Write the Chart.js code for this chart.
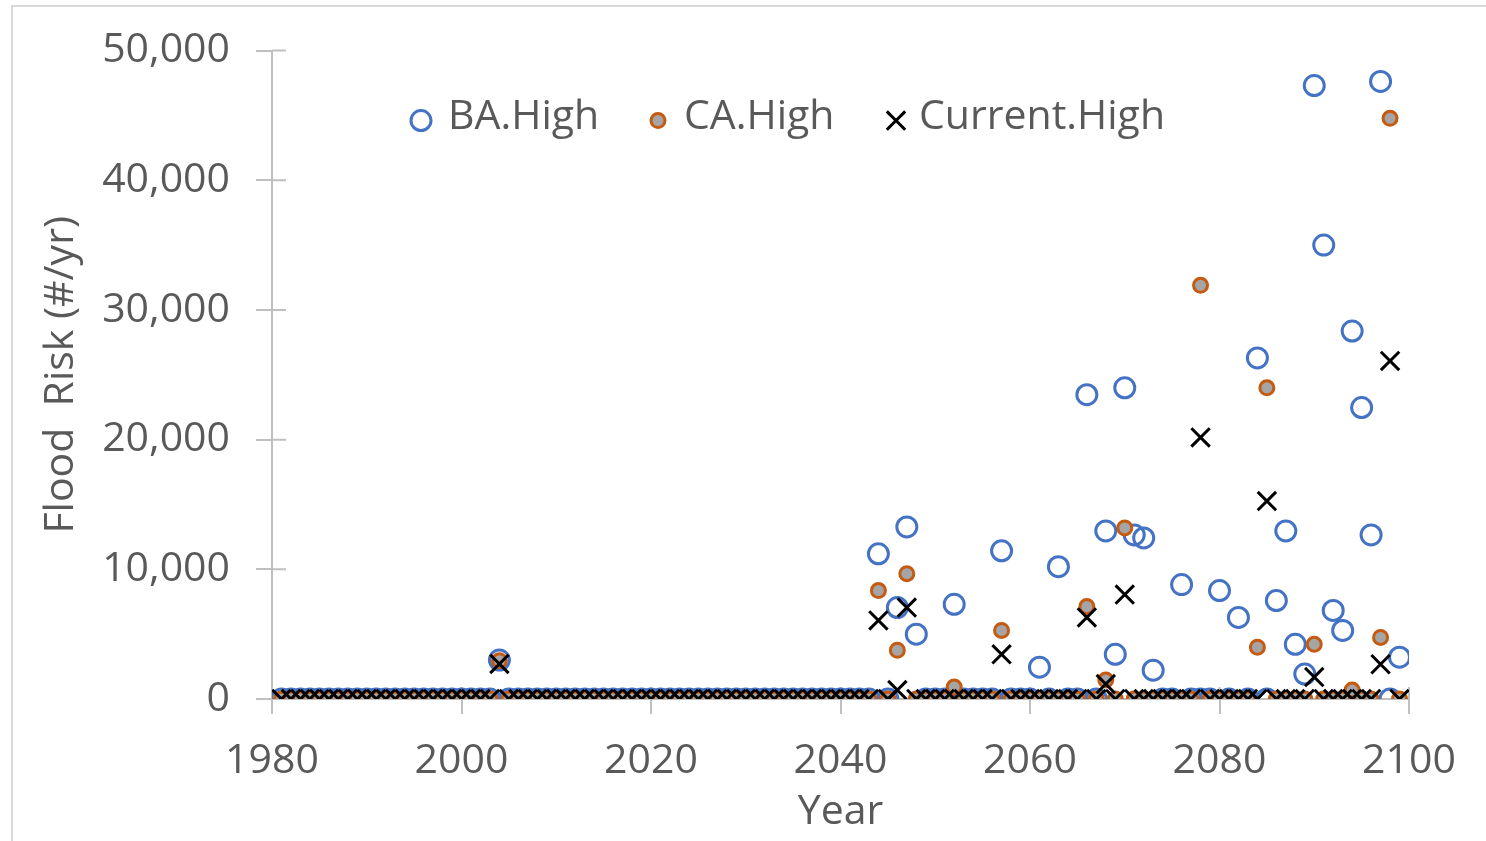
<!DOCTYPE html>
<html>
<head>
<meta charset="utf-8">
<script src="https://cdn.jsdelivr.net/npm/chart.js@4.4.1/dist/chart.umd.min.js"></script>
<style>
  html, body { margin: 0; padding: 0; background: #fff; overflow: hidden; }
  #wrap { position: relative; width: 1486px; height: 841px; }
  #frame { position: absolute; left: 11px; top: 5px; width: 1480px; height: 850px; border: 2px solid #d9d9d9; box-sizing: border-box; }
  #chart { position: absolute; left: 0; top: 0; }
</style>
</head>
<body>
<div id="wrap">
  <div id="frame"></div>
  <canvas id="chart" width="1486" height="841"></canvas>
</div>
<script>
// years on the x axis
const years = [
  1981, 1982, 1983, 1984, 1985, 1986, 1987, 1988, 1989, 1990,
  1991, 1992, 1993, 1994, 1995, 1996, 1997, 1998, 1999, 2000,
  2001, 2002, 2003, 2004, 2005, 2006, 2007, 2008, 2009, 2010,
  2011, 2012, 2013, 2014, 2015, 2016, 2017, 2018, 2019, 2020,
  2021, 2022, 2023, 2024, 2025, 2026, 2027, 2028, 2029, 2030,
  2031, 2032, 2033, 2034, 2035, 2036, 2037, 2038, 2039, 2040,
  2041, 2042, 2043, 2044, 2045, 2046, 2047, 2048, 2049, 2050,
  2051, 2052, 2053, 2054, 2055, 2056, 2057, 2058, 2059, 2060,
  2061, 2062, 2063, 2064, 2065, 2066, 2067, 2068, 2069, 2070,
  2071, 2072, 2073, 2074, 2075, 2076, 2077, 2078, 2079, 2080,
  2081, 2082, 2083, 2084, 2085, 2086, 2087, 2088, 2089, 2090,
  2091, 2092, 2093, 2094, 2095, 2096, 2097, 2098, 2099
];

const baHigh = [
  0, 0, 0, 0, 0, 0, 0, 0, 0, 0,
  0, 0, 0, 0, 0, 0, 0, 0, 0, 0,
  0, 0, 0, 3000, 0, 0, 0, 0, 0, 0,
  0, 0, 0, 0, 0, 0, 0, 0, 0, 0,
  0, 0, 0, 0, 0, 0, 0, 0, 0, 0,
  0, 0, 0, 0, 0, 0, 0, 0, 0, 0,
  0, 0, 0, 11200, 0, 7050, 13270, 5000, 0, 0,
  0, 7300, 0, 0, 0, 0, 11430, 0, 0, 0,
  2450, 0, 10200, 0, 0, 23470, 0, 12960, 3450, 24000,
  12650, 12420, 2220, 0, 0, 8820, 0, 0, 0, 8360,
  0, 6290, 0, 26300, 0, 7590, 12960, 4220, 1920, 47300,
  35000, 6830, 5290, 28370, 22470, 12650, 47620, 0, 3220
];

const caHigh = [
  0, 0, 0, 0, 0, 0, 0, 0, 0, 0,
  0, 0, 0, 0, 0, 0, 0, 0, 0, 0,
  0, 0, 0, 2950, 0, 0, 0, 0, 0, 0,
  0, 0, 0, 0, 0, 0, 0, 0, 0, 0,
  0, 0, 0, 0, 0, 0, 0, 0, 0, 0,
  0, 0, 0, 0, 0, 0, 0, 0, 0, 0,
  0, 0, 0, 8360, 0, 3760, 9660, 0, 0, 0,
  0, 920, 0, 0, 0, 0, 5290, 0, 0, 0,
  0, 0, 0, 0, 0, 7130, 0, 1460, 0, 13190,
  0, 0, 0, 0, 0, 0, 0, 31900, 0, 0,
  0, 0, 0, 3990, 24000, 0, 0, 0, 0, 4220,
  0, 0, 0, 690, 0, 0, 4750, 44780, 0
];

const currentHigh = [
  0, 0, 0, 0, 0, 0, 0, 0, 0, 0,
  0, 0, 0, 0, 0, 0, 0, 0, 0, 0,
  0, 0, 0, 2700, 0, 0, 0, 0, 0, 0,
  0, 0, 0, 0, 0, 0, 0, 0, 0, 0,
  0, 0, 0, 0, 0, 0, 0, 0, 0, 0,
  0, 0, 0, 0, 0, 0, 0, 0, 0, 0,
  0, 0, 0, 6060, 0, 690, 7050, 0, 0, 0,
  0, 0, 0, 0, 0, 0, 3450, 0, 0, 0,
  0, 0, 0, 0, 0, 6290, 0, 1150, 0, 8050,
  0, 0, 0, 0, 0, 0, 0, 20170, 0, 0,
  0, 0, 0, 0, 15260, 0, 0, 0, 0, 1690,
  0, 0, 0, 0, 0, 0, 2680, 26070, 0
];

const xTicks = [1980, 2000, 2020, 2040, 2060, 2080, 2100];
const yTicks = [0, 10000, 20000, 30000, 40000, 50000];

const TEXT = '#595959';
const AXIS = '#bfbfbf';
const FONT = "'Open Sans', sans-serif";

function toPoints(vals) {
  return years.map((yr, i) => ({ x: yr, y: vals[i] }));
}

// legend drawn inside the plot area, like the Excel one
const insideLegend = {
  id: 'insideLegend',
  afterDraw(chart) {
    const c = chart.ctx;
    const area = chart.chartArea;
    const spots = [
      { mx: 149, tx: 176 },
      { mx: 386, tx: 412 },
      { mx: 624, tx: 647 }
    ];
    c.save();
    chart.data.datasets.forEach((ds, i) => {
      const s = spots[i];
      const y = area.top + 70;
      c.lineWidth = ds.pointBorderWidth;
      c.strokeStyle = ds.pointBorderColor;
      c.fillStyle = ds.pointBackgroundColor;
      Chart.helpers.drawPoint(c, {
        pointStyle: ds.pointStyle,
        radius: ds.pointRadius,
        rotation: 0,
        borderWidth: ds.pointBorderWidth
      }, area.left + s.mx, y);
      c.fillStyle = TEXT;
      c.font = '41px ' + FONT;
      c.textBaseline = 'middle';
      c.textAlign = 'left';
      c.fillText(ds.label, area.left + s.tx, y - 3);
    });
    c.restore();
  }
};

// tick marks that cross the axis line on the inside
const innerTicks = {
  id: 'innerTicks',
  beforeDatasetsDraw(chart) {
    const c = chart.ctx;
    const { left, bottom } = chart.chartArea;
    const xs = chart.scales.x, ys = chart.scales.y;
    c.save();
    c.strokeStyle = AXIS;
    c.lineWidth = 2;
    c.beginPath();
    ys.ticks.forEach(t => {
      const py = ys.getPixelForValue(t.value);
      c.moveTo(left, py);
      c.lineTo(left + 14, py);
    });
    xs.ticks.forEach(t => {
      const px = xs.getPixelForValue(t.value);
      c.moveTo(px, bottom);
      c.lineTo(px, bottom - 12);
    });
    c.stroke();
    c.restore();
  }
};

const ctx = document.getElementById('chart').getContext('2d');
const chart = new Chart(ctx, {
  type: 'scatter',
  data: {
    datasets: [
      {
        label: 'BA.High',
        data: toPoints(baHigh),
        pointStyle: 'circle',
        pointRadius: 10,
        pointBorderWidth: 3,
        pointBorderColor: '#4472c4',
        pointBackgroundColor: 'rgba(255,255,255,0)',
        order: 3
      },
      {
        label: 'CA.High',
        data: toPoints(caHigh),
        pointStyle: 'circle',
        pointRadius: 7,
        pointBorderWidth: 3,
        pointBorderColor: '#c55a11',
        pointBackgroundColor: '#a5a5a5',
        order: 2
      },
      {
        label: 'Current.High',
        data: toPoints(currentHigh),
        pointStyle: 'crossRot',
        pointRadius: 13,
        pointBorderWidth: 3,
        pointBorderColor: '#000000',
        pointBackgroundColor: '#000000',
        order: 1
      }
    ]
  },
  options: {
    responsive: false,
    animation: false,
    layout: { padding: { top: 39, right: 77, left: 0, bottom: 0 } },
    plugins: {
      legend: { display: false },
      tooltip: { enabled: false }
    },
    scales: {
      x: {
        type: 'linear',
        position: 'bottom',
        min: xTicks[0],
        max: xTicks[xTicks.length - 1],
        afterBuildTicks: s => { s.ticks = xTicks.map(v => ({ value: v })); },
        afterFit: s => { s.height = 142; },
        ticks: {
          color: TEXT,
          font: { family: FONT, size: 41 },
          padding: 23,
          maxRotation: 0,
          autoSkip: false,
          callback: v => String(v)
        },
        grid: { drawOnChartArea: false, drawTicks: true, tickLength: 15, color: AXIS, lineWidth: 2 },
        border: { display: true, color: AXIS, width: 2 },
        title: {
          display: true,
          text: 'Year',
          color: TEXT,
          font: { family: FONT, size: 41 },
          padding: { top: 0, bottom: 4 }
        }
      },
      y: {
        type: 'linear',
        min: yTicks[0],
        max: yTicks[yTicks.length - 1],
        afterBuildTicks: s => { s.ticks = yTicks.map(v => ({ value: v })); },
        afterFit: s => { s.width = 272; },
        ticks: {
          color: TEXT,
          font: { family: FONT, size: 41 },
          padding: 26,
          autoSkip: false,
          callback: v => v.toLocaleString('en-US')
        },
        grid: { drawOnChartArea: false, drawTicks: true, tickLength: 16, color: AXIS, lineWidth: 2 },
        border: { display: true, color: AXIS, width: 2 },
        title: {
          display: true,
          text: 'Flood  Risk (#/yr)',
          color: TEXT,
          font: { family: FONT, size: 41 },
          padding: { top: 37, bottom: 0 }
        }
      }
    }
  },
  plugins: [innerTicks, insideLegend]
});
</script>
</body>
</html>
